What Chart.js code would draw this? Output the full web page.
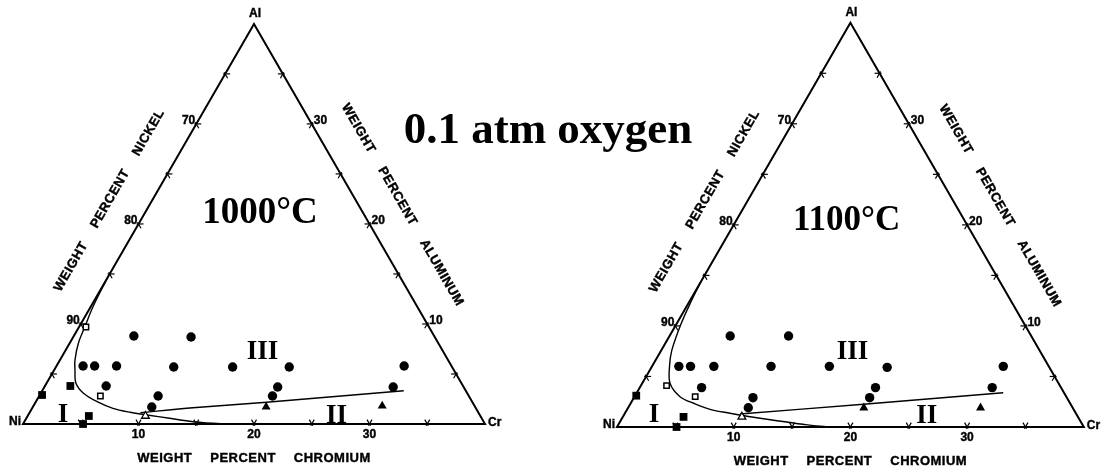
<!DOCTYPE html>
<html>
<head>
<meta charset="utf-8">
<script src="https://cdn.jsdelivr.net/npm/chart.js@4/dist/chart.umd.min.js"></script>
<style>
  html, body { margin: 0; padding: 0; background: #fff; }
  #wrap { position: relative; width: 1102px; height: 471px; overflow: hidden; }
  #wrap canvas { position: absolute; left: 0; top: 0; }
</style>
</head>
<body>
<div id="wrap">
  <canvas id="c1000" width="1102" height="471"></canvas>
  <canvas id="c1100" width="1102" height="471"></canvas>
</div>
<script>
// Ni corner of the Ni-Cr-Al system: compositions in wt% Cr and wt% Al (Ni = balance)
const cornerCr = [0, 40, 0, 0, 40];
const cornerAl = [0, 0, 40, 0, 0];
const edgeTicks = [5, 10, 15, 20, 25, 30, 35];
const chromiumLabels = [10, 20, 30];   // along Ni-Cr base
const nickelLabels = [70, 80, 90];     // along Ni-Al edge
const aluminumLabels = [30, 20, 10];   // along Cr-Al edge

// ---- 1000 °C ----
const circleCr1000 = [5.2, 10.2, 2.3, 3.3, 5.2, 10.2, 15.3, 20.2, 30.1, 5.3, 20.2, 30.2, 10.3, 20.2, 10.3];
const circleAl1000 = [8.8, 8.7, 5.8, 5.8, 5.8, 5.7, 5.7, 5.7, 5.8, 3.8, 3.7, 3.7, 2.8, 2.8, 1.7];
const squareCr1000 = [0.2, 2.2, 5.3, 5.2];
const squareAl1000 = [2.9, 3.8, 0.8, 0.0];
const openSquareCr1000 = [0.6, 5.3];
const openSquareAl1000 = [9.7, 2.8];
const openTriCr1000 = [10.2];
const openTriAl1000 = [0.8];
const triCr1000 = [20.2, 30.2];
const triAl1000 = [1.7, 1.8];
const boundaryICr1000 = [0.0, 0.2, 0.5, 0.75, 1.3, 1.8, 2.55, 3.7, 5.3, 7.0, 8.7, 10.3, 12.4, 14.6, 17.1, 19.0];
const boundaryIAl1000 = [14.8, 11.7, 9.7, 8.1, 6.4, 5.4, 4.07, 3.07, 2.23, 1.57, 1.17, 0.9, 0.57, 0.23, 0.03, 0.0];
const boundaryIICr1000 = [9.6, 13.9, 20.0, 31.3];
const boundaryIIAl1000 = [1.13, 1.63, 2.17, 3.33];

// ---- 1100 °C ----
const circleCr1100 = [5.2, 10.2, 2.3, 3.3, 5.3, 10.2, 15.2, 20.2, 30.1, 5.3, 20.2, 30.2, 10.2, 20.2, 10.3];
const circleAl1100 = [9.0, 9.0, 6.0, 6.0, 6.0, 6.0, 6.0, 5.9, 6.0, 3.9, 3.9, 3.9, 2.9, 2.9, 1.9];
const squareCr1100 = [0.1, 5.2, 5.1];
const squareAl1100 = [3.1, 1.0, 0.0];
const openSquareCr1100 = [2.2, 5.2];
const openSquareAl1100 = [4.1, 3.0];
const openTriCr1100 = [10.2];
const openTriAl1100 = [1.0];
const triCr1100 = [20.2, 30.2];
const triAl1100 = [1.9, 1.9];
const boundaryICr1100 = [0.0, 0.15, 0.4, 0.9, 1.5, 2.4, 3.9, 5.4, 7.1, 9.0, 10.9, 13.4, 15.8, 17.7, 19.5];
const boundaryIAl1100 = [14.4, 12.3, 10.1, 7.6, 6.0, 4.3, 3.0, 2.35, 1.75, 1.36, 1.02, 0.62, 0.27, 0.05, 0.0];
const boundaryIICr1100 = [9.9, 20.0, 31.4];
const boundaryIIAl1100 = [1.29, 2.25, 3.39];

const SQ = Math.sqrt(3) / 2;
function toXY(cr, al) { return { x: cr + al / 2, y: al * SQ }; }
function pairs(crs, als) { return crs.map((c, i) => toXY(c, als[i])); }

const panels = [
  {
    id: 'c1000', originX: 23, originY: 424, pxPerPct: 11.55,
    temp: '1000°C', tempFont: 37, tempAt: [10.46, 20.13],
    regions: [['I', 3.35, 0.23], ['II', 27.1, 0.07], ['III', 17.5, 6.47]],
    title: '0.1 atm oxygen',
    circles: [circleCr1000, circleAl1000], squares: [squareCr1000, squareAl1000],
    openSquares: [openSquareCr1000, openSquareAl1000], openTris: [openTriCr1000, openTriAl1000],
    tris: [triCr1000, triAl1000],
    curveI: [boundaryICr1000, boundaryIAl1000], curveII: [boundaryIICr1000, boundaryIIAl1000]
  },
  {
    id: 'c1100', originX: 617, originY: 427, pxPerPct: 11.67,
    temp: '1100°C', tempFont: 35, tempAt: [9.93, 19.49],
    regions: [['I', 2.91, 0.52], ['II', 26.36, 0.37], ['III', 16.83, 6.7]],
    title: null,
    circles: [circleCr1100, circleAl1100], squares: [squareCr1100, squareAl1100],
    openSquares: [openSquareCr1100, openSquareAl1100], openTris: [openTriCr1100, openTriAl1100],
    tris: [triCr1100, triAl1100],
    curveI: [boundaryICr1100, boundaryIAl1100], curveII: [boundaryIICr1100, boundaryIIAl1100]
  }
];

const SANS = '"Liberation Sans", Arial, sans-serif';
const SERIF = '"Liberation Serif", "Times New Roman", serif';

// heavy lettering: fill plus a hairline outline
function heavyText(ctx, s, x, y) {
  ctx.fillText(s, x, y);
  ctx.strokeText(s, x, y);
}

function drawWords(ctx, words, cx, cy, angle, gap) {
  ctx.save();
  ctx.translate(cx, cy);
  ctx.rotate(angle);
  ctx.textAlign = 'left';
  ctx.textBaseline = 'middle';
  const widths = words.map(w => ctx.measureText(w).width);
  const total = widths.reduce((a, b) => a + b, 0) + gap * (words.length - 1);
  let x = -total / 2;
  words.forEach((w, i) => { heavyText(ctx, w, x, 0); x += widths[i] + gap; });
  ctx.restore();
}

function makeDecor(panel) {
  const P = (chart, cr, al) => {
    const p = toXY(cr, al);
    return { x: chart.scales.x.getPixelForValue(p.x), y: chart.scales.y.getPixelForValue(p.y) };
  };
  return {
    id: 'ternaryDecor',
    beforeDatasetsDraw(chart) {
      const ctx = chart.ctx;
      ctx.save();
      ctx.strokeStyle = '#000';
      ctx.lineWidth = 1.2;
      const L = 5, O = 2;
      const tick = (p, dirs) => {
        dirs.forEach(d => {
          ctx.beginPath();
          ctx.moveTo(p.x - d[0] * O, p.y - d[1] * O);
          ctx.lineTo(p.x + d[0] * L, p.y + d[1] * L);
          ctx.stroke();
        });
      };
      edgeTicks.forEach(v => {
        tick(P(chart, v, 0), [[-0.5, -SQ], [0.5, -SQ]]);
        tick(P(chart, 0, v), [[1, 0], [0.5, SQ]]);
        tick(P(chart, 40 - v, v), [[-1, 0], [-0.5, SQ]]);
      });
      ctx.restore();
    },
    afterDraw(chart) {
      const ctx = chart.ctx;
      ctx.save();
      ctx.fillStyle = '#000';
      ctx.strokeStyle = '#000';
      ctx.lineWidth = 0.4;

      // corner symbols
      ctx.font = 'bold 12px ' + SANS;
      const ni = P(chart, 0, 0), cr = P(chart, 40, 0), al = P(chart, 0, 40);
      ctx.textBaseline = 'middle';
      ctx.textAlign = 'center'; heavyText(ctx, 'Al', al.x + 1, al.y - 10);
      ctx.textAlign = 'right'; heavyText(ctx, 'Ni', ni.x - 2, ni.y - 2);
      ctx.textAlign = 'left'; heavyText(ctx, 'Cr', cr.x + 3, cr.y - 1);

      // scale numbers
      chromiumLabels.forEach(v => {
        const p = P(chart, v, 0);
        ctx.textAlign = 'center'; heavyText(ctx, String(v), p.x, p.y + 11);
      });
      nickelLabels.forEach(v => {
        const p = P(chart, 0, 100 - v);
        ctx.textAlign = 'right'; heavyText(ctx, String(v), p.x - 1, p.y - 3);
      });
      aluminumLabels.forEach(v => {
        const p = P(chart, 40 - v, v);
        ctx.textAlign = 'left'; heavyText(ctx, String(v), p.x + 2, p.y - 3.5);
      });

      // axis titles
      ctx.font = 'bold 13px ' + SANS;
      ctx.letterSpacing = '0.5px';
      const b = P(chart, 20, 0);
      drawWords(ctx, ['WEIGHT', 'PERCENT', 'CHROMIUM'], b.x, b.y + 34, 0, 18);
      const le = P(chart, 0, 20.5);
      drawWords(ctx, ['WEIGHT', 'PERCENT', 'NICKEL'], le.x - 37 * SQ, le.y - 37 * 0.5, -Math.PI / 3, 18);
      const re = P(chart, 20, 20);
      drawWords(ctx, ['WEIGHT', 'PERCENT', 'ALUMINUM'], re.x + 38 * SQ, re.y - 38 * 0.5, Math.PI / 3, 18);
      ctx.letterSpacing = '0px';

      // temperature and phase-field labels
      ctx.textAlign = 'center';
      ctx.textBaseline = 'alphabetic';
      ctx.font = 'bold ' + panel.tempFont + 'px ' + SERIF;
      const t = P(chart, panel.tempAt[0], panel.tempAt[1]);
      ctx.fillText(panel.temp, t.x, t.y);
      ctx.font = 'bold 27px ' + SERIF;
      panel.regions.forEach(r => {
        const p = P(chart, r[1], r[2]);
        ctx.fillText(r[0], p.x, p.y);
      });

      if (panel.title) {
        ctx.font = 'bold 45px ' + SERIF;
        ctx.fillText(panel.title, 548, 143);
      }
      ctx.restore();
    }
  };
}

panels.forEach(panel => {
  const k = panel.pxPerPct;
  const W = 1102, H = 471;
  const xMin = -panel.originX / k, yMax = panel.originY / k;
  const marker = (label, src, style, r, fill, bw) => ({
    label, data: pairs(src[0], src[1]), pointStyle: style, pointRadius: r,
    pointBackgroundColor: fill, pointBorderColor: '#000', pointBorderWidth: bw,
    showLine: false, order: 0
  });
  const line = (label, src, width, tension, order) => ({
    label, data: pairs(src[0], src[1]), showLine: true, pointRadius: 0,
    borderColor: '#000', borderWidth: width, tension, fill: false, order,
    borderJoinStyle: 'miter'
  });
  new Chart(document.getElementById(panel.id), {
    type: 'scatter',
    data: {
      datasets: [
        marker('circles', panel.circles, 'circle', 4.7, '#000', 0),
        marker('filled squares', panel.squares, 'rect', 5.5, '#000', 0),
        marker('open squares', panel.openSquares, 'rect', 3.8, '#fff', 1.5),
        marker('open triangles', panel.openTris, 'triangle', 4.5, '#fff', 1.3),
        marker('filled triangles', panel.tris, 'triangle', 5.2, '#000', 0),
        line('boundary I', panel.curveI, 1.4, 0.35, 1),
        line('boundary II-III', panel.curveII, 1.4, 0.3, 1),
        line('frame', [cornerCr, cornerAl], 2, 0, 2)
      ]
    },
    options: {
      responsive: false,
      animation: false,
      devicePixelRatio: 1,
      events: [],
      layout: { padding: 0, autoPadding: false },
      scales: {
        x: { type: 'linear', min: xMin, max: xMin + W / k, display: false },
        y: { type: 'linear', min: yMax - H / k, max: yMax, display: false }
      },
      plugins: { legend: { display: false }, tooltip: { enabled: false } }
    },
    plugins: [makeDecor(panel)]
  });
});
</script>
</body>
</html>
